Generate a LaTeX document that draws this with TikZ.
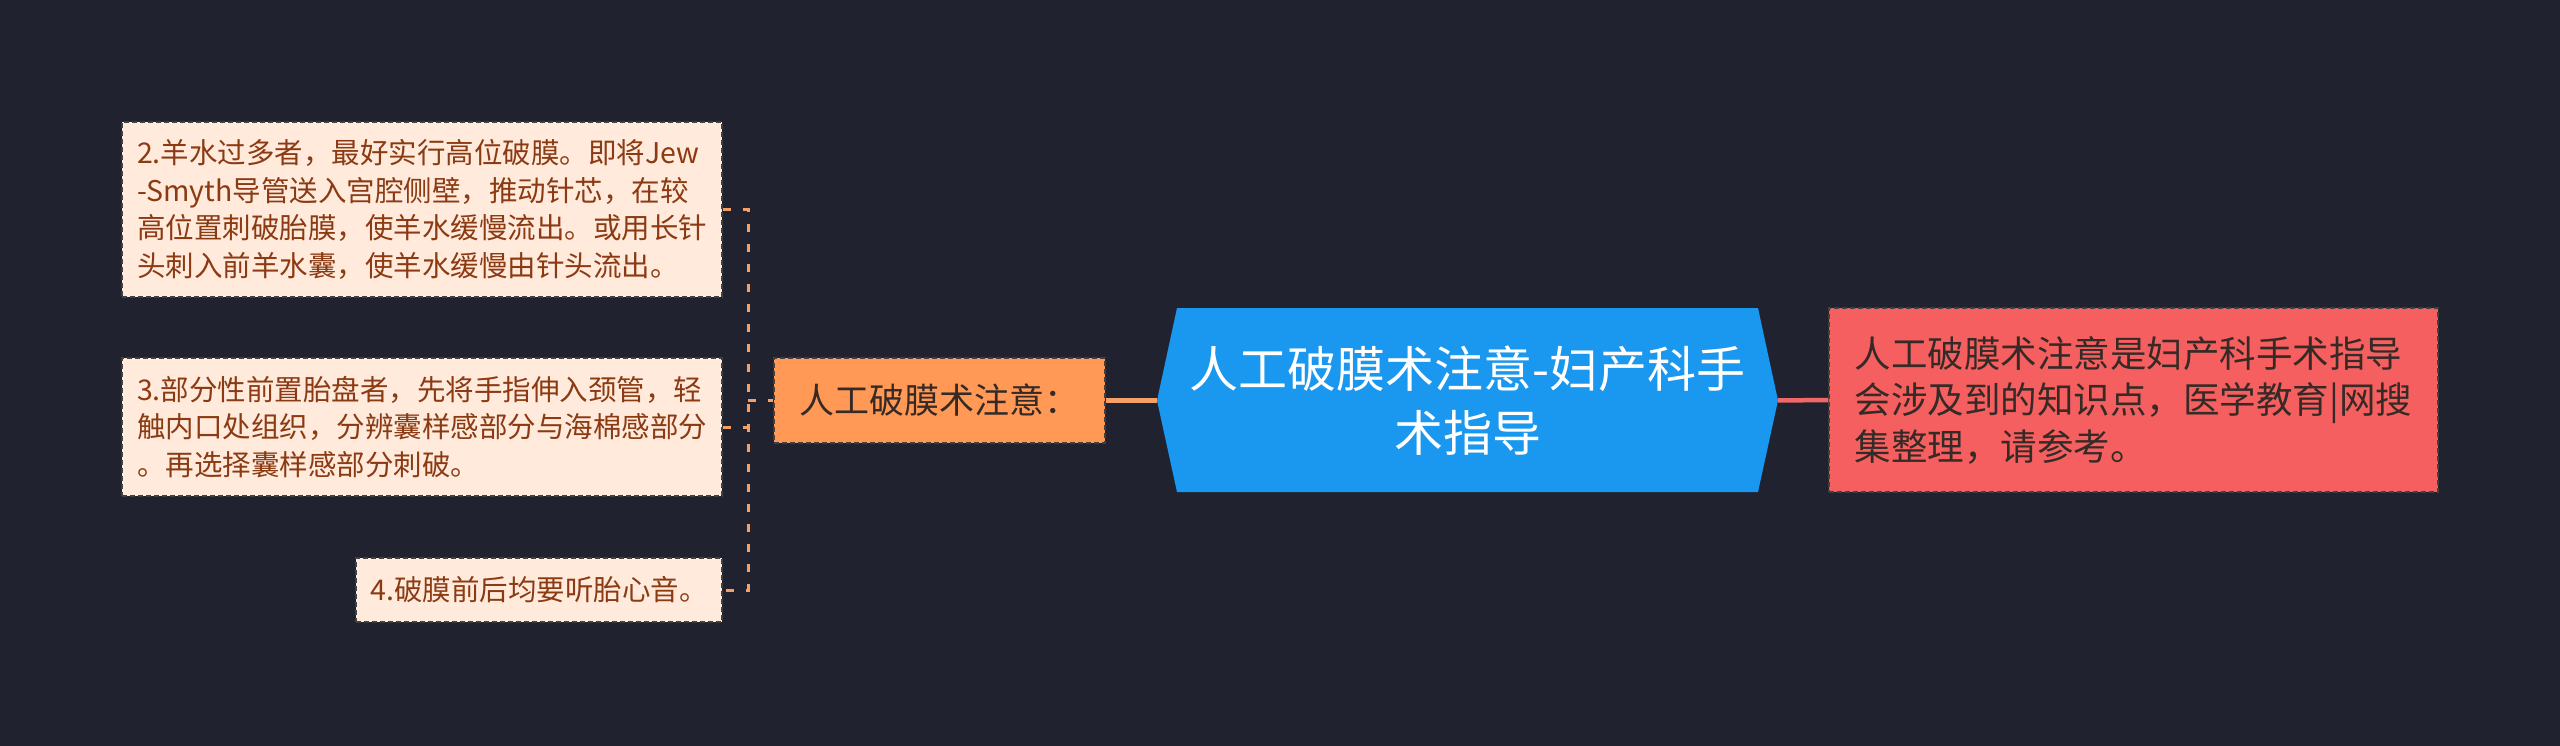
\documentclass[tikz,border=0pt]{standalone}
\usepackage{fontspec}
\newfontfamily\cjk{Noto Sans CJK SC}
\definecolor{bgc}{HTML}{20232F}
\definecolor{leaffill}{HTML}{FFEADC}
\definecolor{leaftext}{HTML}{8B3A12}
\definecolor{orangefill}{HTML}{FF9955}
\definecolor{orangeline}{HTML}{F4A066}
\definecolor{darktext}{HTML}{352A26}
\definecolor{bluefill}{HTML}{1A97EE}
\definecolor{redfill}{HTML}{F55F60}
\definecolor{redline}{HTML}{F06868}
\begin{document}
\begin{tikzpicture}[x=1pt,y=-1pt,
  nodeborder/.style={draw=black!75,line width=1.4pt,dash pattern=on 5pt off 3pt},
  leaf/.style={nodeborder,fill=leaffill,text=leaftext,inner sep=0pt,align=left,
    font=\cjk\fontsize{28.5pt}{37.5pt}\selectfont},
  mid/.style={nodeborder,fill=orangefill,text=darktext,inner sep=0pt,align=center,
    font=\cjk\fontsize{35pt}{44pt}\selectfont},
  rednote/.style={nodeborder,fill=redfill,text=darktext,inner sep=0pt,align=left,
    font=\cjk\fontsize{36.5pt}{46.5pt}\selectfont},
  maintext/.style={text=white,inner sep=0pt,align=center,
    font=\cjk\fontsize{49pt}{64pt}\selectfont},
  brk/.style={orangeline,line width=3pt,dash pattern=on 8pt off 12pt},
  solidorange/.style={orangeline,line width=4.5pt},
  solidred/.style={redline,line width=4.5pt}]
\useasboundingbox (0,0) rectangle (2560,746);
\fill[bgc] (0,0) rectangle (2560,746);

% leaves
\node[leaf,minimum width=600pt,minimum height=175pt] (b2) at (422,209.5)
  {2.羊水过多者，最好实行高位破膜。即将Jew\\-Smyth导管送入宫腔侧壁，推动针芯，在较\\高位置刺破胎膜，使羊水缓慢流出。或用长针\\头刺入前羊水囊，使羊水缓慢由针头流出。};
\node[leaf,minimum width=600pt,minimum height=138pt] (b3) at (422,427)
  {3.部分性前置胎盘者，先将手指伸入颈管，轻\\触内口处组织，分辨囊样感部分与海棉感部分\\。再选择囊样感部分刺破。};
\node[leaf,minimum width=366pt,minimum height=64pt] (b4) at (539,590)
  {4.破膜前后均要听胎心音。};

% middle node
\node[mid,minimum width=331pt,minimum height=85pt] (m) at (939.5,400.5)
  {人工破膜术注意：};

% main hexagon
\coordinate (hl) at (1157,400.5);
\coordinate (hr) at (1778,400.5);
\fill[bluefill] (hl) -- (1177,308) -- (1758,308) -- (hr) -- (1758,492) -- (1177,492) -- cycle;
\node[maintext] (main) at (1467.5,401) {人工破膜术注意-妇产科手\\术指导};

% right note
\node[rednote,minimum width=609pt,minimum height=184pt] (r) at (2133.5,400)
  {人工破膜术注意是妇产科手术指导\\会涉及到的知识点，医学教育|网搜\\集整理，请参考。};

% connectors
\coordinate (bx) at (748,400.5);
\draw[brk] (b2.east) -- (b2.east -| bx) -- (b4.east -| bx) -- (b4.east);
\draw[brk] (b3.east) -- (b3.east -| bx);
\draw[brk] (bx) -- (m.west);
\draw[solidorange] (m.east) -- (hl);
\draw[solidred] (hr) -- (r.west);
\end{tikzpicture}
\end{document}
